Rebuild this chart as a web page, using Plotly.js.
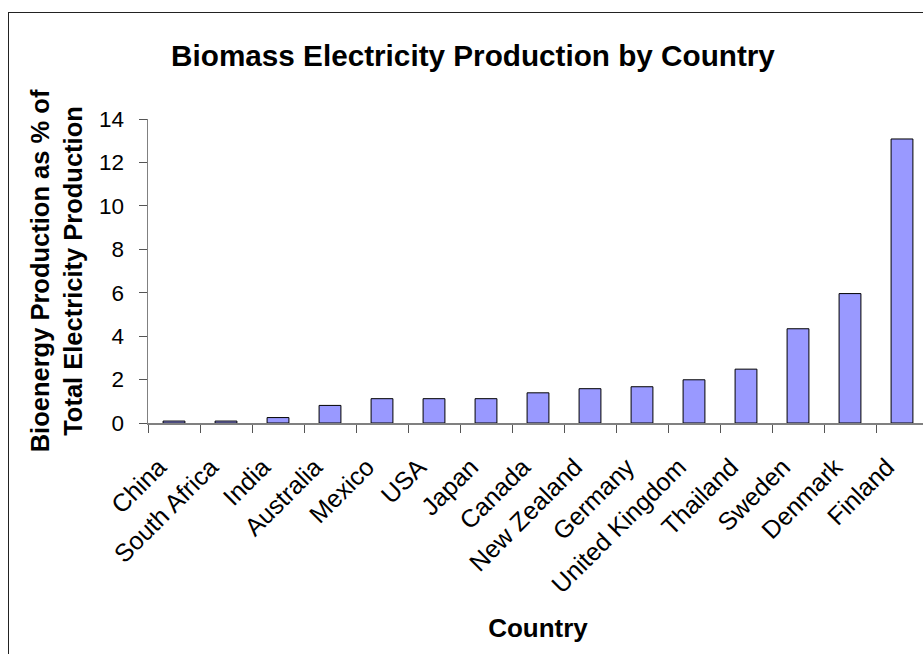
<!DOCTYPE html>
<html>
<head>
<meta charset="utf-8">
<script src="https://cdn.plot.ly/plotly-3.0.1.min.js"></script>
<style>
html,body{margin:0;padding:0;overflow:hidden;background:#fff;width:923px;height:654px;}
#frame{position:absolute;left:8px;top:12px;width:1000px;height:1000px;border:1px solid #222;box-sizing:border-box;pointer-events:none;z-index:5;}
#chart{position:absolute;left:0;top:0;width:940px;height:654px;}
</style>
</head>
<body>
<div id="chart"></div>
<div id="frame"></div>
<script>
const countries = ["China","South Africa","India","Australia","Mexico","USA","Japan","Canada","New Zealand","Germany","United Kingdom","Thailand","Sweden","Denmark","Finland"];
const biomassPct = [0.09,0.09,0.25,0.81,1.12,1.12,1.12,1.39,1.58,1.67,1.99,2.48,4.34,5.96,13.08];
const yTicks = [0,2,4,6,8,10,12,14];

const font = "Arial, 'Liberation Sans', sans-serif";

const trace = {
  type: "bar",
  x: countries,
  y: biomassPct,
  marker: {color: "#9999ff", line: {color: "#000000", width: 1}},
  hoverinfo: "x+y"
};

const layout = {
  width: 940,
  height: 654,
  margin: {l: 148, r: 12, t: 119, b: 230.5},
  paper_bgcolor: "#ffffff",
  plot_bgcolor: "#ffffff",
  bargap: 0.58,
  showlegend: false,
  font: {family: font, color: "#000000"},
  title: {
    text: "<b>Biomass Electricity Production by Country</b>",
    font: {family: font, size: 29.7, color: "#000000"},
    x: 473/940, xanchor: "center", xref: "container",
    y: 1 - 56/654, yanchor: "middle", yref: "container"
  },
  xaxis: {
    type: "category",
    tickangle: -45,
    tickson: "boundaries",
    ticks: "outside",
    ticklen: 8,
    tickcolor: "#555555",
    showline: true,
    linecolor: "#808080",
    linewidth: 1.5,
    showgrid: false,
    zeroline: false,
    tickfont: {family: font, size: 25, color: "#000000"},
    ticklabelstandoff: 18,
    ticklabelshift: -15,
    title: {text: "<b>Country</b>", font: {family: font, size: 26, color: "#000000"}, standoff: 21},
    automargin: false,
    fixedrange: true
  },
  yaxis: {
    range: [0, 14],
    tickvals: yTicks,
    ticktext: yTicks.map(String),
    ticks: "outside",
    ticklen: 8,
    tickcolor: "#555555",
    showline: true,
    linecolor: "#808080",
    linewidth: 1.5,
    showgrid: false,
    zeroline: false,
    tickfont: {family: font, size: 22.5, color: "#000000"},
    ticklabelstandoff: 10,
    title: {text: "<b>Bioenergy Production as % of<br>Total Electricity Production</b>", font: {family: font, size: 25.5, color: "#000000"}, standoff: 9},
    automargin: false,
    fixedrange: true
  }
};

Plotly.newPlot("chart", [trace], layout, {displayModeBar: false, staticPlot: true});
</script>
</body>
</html>
